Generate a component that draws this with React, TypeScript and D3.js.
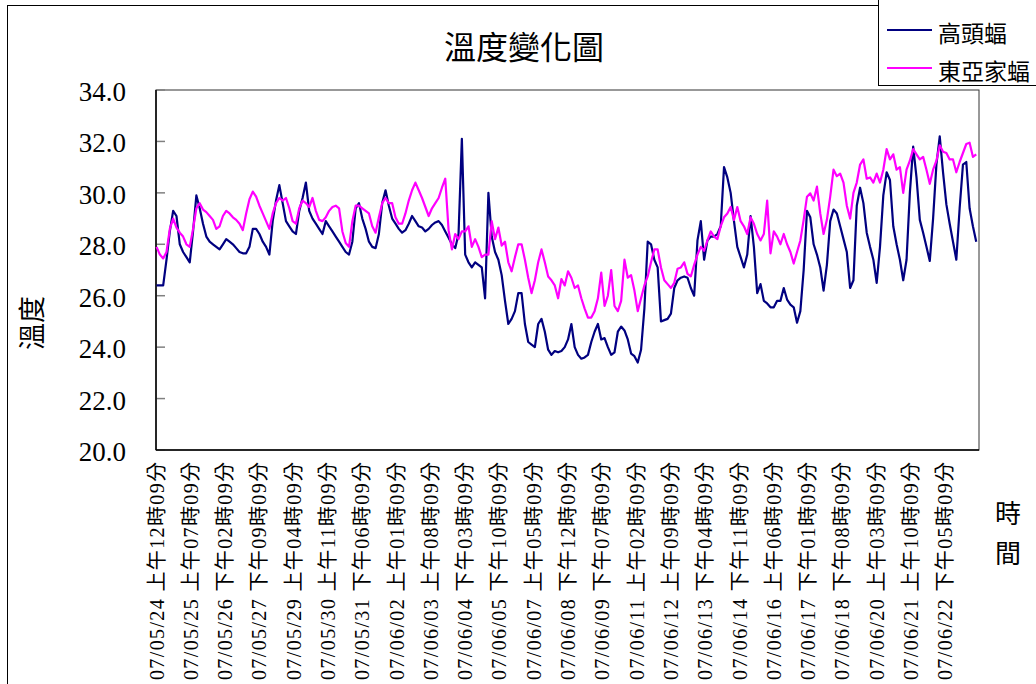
import React from "react";
import * as d3 from "d3";

// 兩種蝠類棲所的溫度紀錄，每 3 小時取一筆（起點 07/05/24 上午12時09分）
const seriesNames = ["高頭蝠", "東亞家蝠"];
const seriesColors = ["#000080", "#FF00FF"];
const SAMPLE_HOURS = 3;
const TOTAL_HOURS = 744;
const LABEL_EVERY = 31;

const highHeadBat = [
  26.4, 26.4, 26.4, 27.4, 28.5, 29.3, 29.1, 28.0, 27.7, 27.5, 27.3, 28.5, 29.9, 29.4, 28.8, 28.3,
  28.1, 28.0, 27.9, 27.8, 28.0, 28.2, 28.1, 28.0, 27.85, 27.7, 27.65, 27.65, 27.9, 28.6, 28.6, 28.4,
  28.1, 27.9, 27.6, 28.9, 29.7, 30.3, 29.6, 28.9, 28.7, 28.5, 28.4, 29.3, 29.8, 30.4, 29.3, 29.0,
  28.8, 28.6, 28.4, 28.9, 28.7, 28.5, 28.3, 28.1, 27.9, 27.7, 27.6, 28.1, 29.4, 29.6, 29.0, 28.6,
  28.1, 27.9, 27.85, 28.4, 29.6, 30.1, 29.5, 29.0, 28.8, 28.6, 28.45, 28.55, 28.8, 29.1, 28.9, 28.7,
  28.65, 28.5, 28.6, 28.75, 28.85, 28.9, 28.75, 28.5, 28.25, 28.0, 27.85, 28.4, 32.1, 27.6, 27.3, 27.1,
  27.3, 27.2, 27.1, 25.9, 30.0, 28.3, 27.7, 27.4, 26.8, 25.8, 24.9, 25.1, 25.4, 26.1, 26.1, 24.9,
  24.2, 24.1, 24.0, 24.9, 25.1, 24.6, 23.9, 23.7, 23.85, 23.8, 23.85, 24.0, 24.3, 24.9, 24.0, 23.7,
  23.55, 23.6, 23.7, 24.2, 24.6, 24.9, 24.3, 24.35, 24.0, 23.7, 23.8, 24.6, 24.8, 24.65, 24.3, 23.75,
  23.65, 23.4, 23.9, 25.5, 28.1, 28.0, 27.4, 27.1, 25.0, 25.05, 25.1, 25.3, 26.3, 26.6, 26.7, 26.75,
  26.7, 26.3, 26.0, 28.15, 28.9, 27.4, 28.15, 28.3, 28.3, 28.4, 28.7, 31.0, 30.6, 30.0, 28.9, 27.9,
  27.5, 27.1, 27.6, 29.1, 27.9, 26.1, 26.45, 25.8, 25.7, 25.55, 25.55, 25.8, 25.8, 26.3, 25.85, 25.65,
  25.55, 24.95, 25.4, 27.0, 29.3, 29.05, 28.0, 27.6, 27.1, 26.2, 27.2, 28.9, 29.35, 29.2, 28.7, 28.2,
  27.7, 26.3, 26.6, 29.5, 30.2, 29.6, 28.45, 27.9, 27.4, 26.5, 27.9, 29.9, 30.8, 30.5, 28.7, 28.0,
  27.4, 26.6, 27.4, 30.0, 31.8, 30.6, 28.95, 28.45, 27.9, 27.35, 29.0, 31.1, 32.2, 30.8, 29.55, 28.8,
  28.1, 27.4, 29.4, 31.1, 31.2, 29.4, 28.7, 28.1,
];

const eastAsianBat = [
  27.9, 27.6, 27.45, 27.7, 28.6, 29.0, 28.65, 28.45, 28.3, 28.0, 27.9, 28.6, 29.4, 29.6, 29.35, 29.25,
  29.1, 28.95, 28.6, 28.7, 29.1, 29.3, 29.2, 29.05, 28.95, 28.8, 28.55, 29.2, 29.75, 30.05, 29.85, 29.5,
  29.2, 28.9, 28.6, 29.2, 29.6, 29.8, 29.7, 29.8, 29.4, 28.9, 28.8, 29.4, 29.7, 29.6, 29.45, 29.8,
  29.3, 28.95, 28.9, 29.05, 29.3, 29.45, 29.5, 29.4, 28.5, 28.05, 27.9, 28.9, 29.5, 29.5, 29.4, 29.3,
  29.2, 28.7, 28.45, 29.05, 29.6, 29.8, 29.6, 29.6, 29.05, 28.8, 28.8, 29.2, 29.7, 30.1, 30.4, 30.1,
  29.8, 29.45, 29.1, 29.4, 29.6, 29.8, 30.2, 30.55, 28.55, 27.8, 28.4, 28.2, 28.5, 28.5, 28.7, 27.9,
  28.2, 27.9, 27.5, 27.6, 27.6, 28.9, 28.2, 28.65, 27.95, 28.1, 27.3, 26.95, 27.5, 28.0, 28.0, 27.4,
  26.7, 26.1, 26.6, 27.3, 27.8, 27.3, 26.75, 26.6, 26.4, 25.9, 26.65, 26.4, 26.95, 26.7, 26.3, 26.4,
  25.9, 25.5, 25.15, 25.15, 25.4, 25.9, 26.9, 25.6, 26.0, 27.0, 25.6, 25.4, 25.8, 27.4, 26.7, 26.8,
  26.2, 25.4, 25.9, 26.4, 26.75, 27.3, 27.8, 27.8, 27.1, 26.6, 26.45, 26.3, 26.5, 27.05, 27.1, 27.3,
  26.85, 26.75, 27.2, 27.6, 27.9, 27.75, 28.15, 28.5, 28.3, 28.2, 28.7, 29.05, 29.2, 29.45, 28.95, 29.45,
  28.9, 28.7, 28.4, 29.05, 28.8, 28.4, 28.15, 28.4, 29.7, 27.65, 28.5, 28.3, 28.0, 28.4, 28.0, 27.7,
  27.25, 27.7, 28.15, 28.95, 29.85, 29.98, 29.7, 30.24, 29.2, 28.4, 28.95, 29.85, 30.9, 30.65, 30.75, 30.4,
  29.5, 29.0, 30.0, 30.4, 31.1, 31.3, 30.55, 30.6, 30.4, 30.75, 30.4, 30.9, 31.7, 31.3, 31.5, 30.9,
  31.0, 30.0, 30.9, 31.25, 31.7, 31.5, 31.3, 31.4, 30.9, 30.35, 30.9, 31.25, 31.85, 31.6, 31.55, 31.3,
  31.3, 30.8, 31.2, 31.55, 31.9, 31.95, 31.4, 31.5,
];

const xTickLabels = [
  "07/05/24 上午12時09分", "07/05/25 上午07時09分", "07/05/26 下午02時09分", "07/05/27 下午09時09分",
  "07/05/29 上午04時09分", "07/05/30 上午11時09分", "07/05/31 下午06時09分", "07/06/02 上午01時09分",
  "07/06/03 上午08時09分", "07/06/04 下午03時09分", "07/06/05 下午10時09分", "07/06/07 上午05時09分",
  "07/06/08 下午12時09分", "07/06/09 下午07時09分", "07/06/11 上午02時09分", "07/06/12 上午09時09分",
  "07/06/13 下午04時09分", "07/06/14 下午11時09分", "07/06/16 上午06時09分", "07/06/17 下午01時09分",
  "07/06/18 下午08時09分", "07/06/20 上午03時09分", "07/06/21 上午10時09分", "07/06/22 下午05時09分",
];

const yTicks = [20, 22, 24, 26, 28, 30, 32, 34];

const W = 1036;
const H = 684;
const plot = { left: 156, top: 90, right: 979, bottom: 450 };
const font = "'Liberation Serif', 'Noto Sans CJK TC', serif";
const cjkFont = "'Noto Sans CJK TC', 'Liberation Serif', serif";

export default function App() {
  const x = d3
    .scaleLinear()
    .domain([-0.5, TOTAL_HOURS - 0.5])
    .range([plot.left, plot.right]);
  const y = d3.scaleLinear().domain([20, 34]).range([plot.bottom, plot.top]);

  const line = d3
    .line<number>()
    .x((_, i) => x(i * SAMPLE_HOURS))
    .y((d) => y(d));

  const series = [highHeadBat, eastAsianBat];

  return (
    <svg
      width={W}
      height={H}
      style={{ position: "absolute", left: 0, top: 0, background: "#fff" }}
    >
      <rect x={0} y={0} width={W} height={H} fill="#fff" />
      {/* chart area border */}
      <rect x={7.5} y={5.5} width={W + 20} height={H + 20} fill="none" stroke="#000" />

      <text x={524} y={45} textAnchor="middle" dominantBaseline="central" fontSize={32} fontFamily={cjkFont} fill="#000">
        溫度變化圖
      </text>

      {/* plot area */}
      <rect
        x={plot.left}
        y={plot.top}
        width={plot.right - plot.left}
        height={plot.bottom - plot.top}
        fill="#fff"
        stroke="#333"
      />
      {yTicks.map((t) => (
        <g key={t}>
          <line x1={plot.left} x2={plot.left + 9} y1={y(t)} y2={y(t)} stroke="#808080" strokeWidth={1.5} />
          <text
            x={126}
            y={y(t) + 2}
            textAnchor="end"
            dominantBaseline="central"
            fontSize={27}
            fontFamily={font}
            fill="#000"
          >
            {t.toFixed(1)}
          </text>
        </g>
      ))}
      <line x1={plot.left} x2={plot.left} y1={plot.top} y2={plot.bottom} stroke="#000" strokeWidth={1.5} />
      <line x1={plot.left} x2={plot.right} y1={plot.bottom} y2={plot.bottom} stroke="#000" strokeWidth={1.5} />

      {series.map((s, i) => (
        <path key={i} d={line(s) ?? ""} fill="none" stroke={seriesColors[i]} strokeWidth={2.2} strokeLinejoin="round" />
      ))}

      {xTickLabels.map((lab, i) => (
        <text
          key={lab}
          transform={`translate(${x(i * LABEL_EVERY)},462) rotate(-90)`}
          textAnchor="end"
          dy="0.35em"
          fontSize={20}
          textLength={218}
          lengthAdjust="spacing"
          fontFamily={font}
          fill="#000"
        >
          {lab}
        </text>
      ))}

      {/* axis titles */}
      <text
        transform="translate(30,323) rotate(-90)"
        textAnchor="middle"
        dominantBaseline="central"
        fontSize={27}
        fontFamily={cjkFont}
        fill="#000"
      >
        溫度
      </text>
      <text x={1008} y={511} textAnchor="middle" dominantBaseline="central" fontSize={26} fontFamily={cjkFont} fill="#000">
        時
      </text>
      <text x={1008} y={551} textAnchor="middle" dominantBaseline="central" fontSize={26} fontFamily={cjkFont} fill="#000">
        間
      </text>

      {/* legend */}
      <rect x={878.5} y={-5} width={200} height={90.5} fill="#fff" stroke="#000" />
      {seriesNames.map((name, i) => (
        <g key={name}>
          <line x1={887} x2={932} y1={30 + i * 38} y2={30 + i * 38} stroke={seriesColors[i]} strokeWidth={2} />
          <text
            x={938}
            y={32 + i * 38}
            dominantBaseline="central"
            fontSize={23}
            fontFamily={cjkFont}
            fill="#000"
          >
            {name}
          </text>
        </g>
      ))}
    </svg>
  );
}
